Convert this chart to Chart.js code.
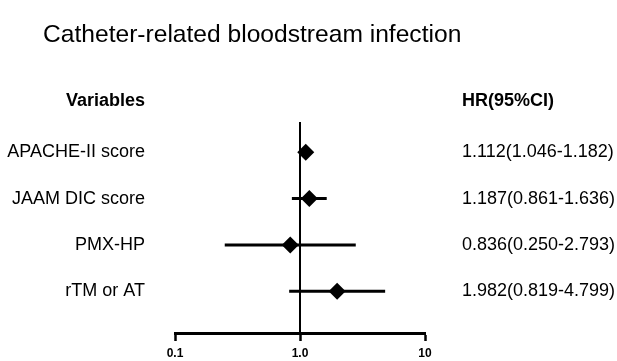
<!DOCTYPE html>
<html>
<head>
<meta charset="utf-8">
<script src="https://cdn.jsdelivr.net/npm/chart.js@4.4.1/dist/chart.umd.min.js"></script>
<style>
    body { margin: 0; background: #fff; }
    #wrap { position: relative; width: 617px; height: 361px; }
    #title {
        position: absolute; left: 43px; top: 21px;
        font-family: "Liberation Sans", Arial, sans-serif;
        font-size: 24.6px; line-height: 25px; color: #000;
        white-space: nowrap;
    }
    canvas { position: absolute; left: 0; top: 0; }
</style>
</head>
<body>
<div id="wrap">
    <canvas id="forestChart" width="617" height="361"></canvas>
    <div id="title">Catheter-related bloodstream infection</div>
</div>
<script>
// данные со снимка
const variables = ['APACHE-II score', 'JAAM DIC score', 'PMX-HP', 'rTM or AT'];
const hr = [1.112, 1.187, 0.836, 1.982];
const ciLow = [1.046, 0.861, 0.250, 0.819];
const ciHigh = [1.182, 1.636, 2.793, 4.799];
const xTicks = [0.1, 1, 10];
const xTickLabels = ['0.1', '1.0', '10'];
const leftHeader = 'Variables';
const rightHeader = 'HR(95%CI)';

const FONT = '"Liberation Sans", Arial, sans-serif';
const headerPos = -0.1;
const rowTicks = [headerPos, 1, 2, 3, 4];

// подписи HR(95%CI) собираем из массивов
const hrLabels = hr.map((v, i) => `${v.toFixed(3)}(${ciLow[i].toFixed(3)}-${ciHigh[i].toFixed(3)})`);

// линии доверительных интервалов — по одной на строку
const ciDatasets = variables.map((name, i) => ({
    type: 'line',
    label: name,
    data: [{ x: ciLow[i], y: i + 1 }, { x: ciHigh[i], y: i + 1 }],
    borderColor: '#000',
    borderWidth: 3,
    pointRadius: 0,
    order: 2
}));

const refLine = {
    type: 'line',
    label: 'ref',
    data: [{ x: 1, y: 0.35 }, { x: 1, y: 4.9 }],
    borderColor: '#000',
    borderWidth: 2,
    pointRadius: 0,
    order: 3
};

const points = {
    type: 'line',
    label: 'HR',
    data: hr.map((v, i) => ({ x: v, y: i + 1 })),
    showLine: false,
    pointStyle: 'rectRot',
    pointRadius: 8.5,
    backgroundColor: '#000',
    borderColor: '#000',
    borderWidth: 0,
    order: 1
};

const tickFont = (ctx) => ({
    family: FONT,
    size: 18,
    weight: ctx.index === 0 ? 'bold' : 'normal'
});

const rowAxis = (position, labelFn, width, pad) => ({
    type: 'linear',
    position: position,
    reverse: true,
    min: -0.6,
    max: 4.9,
    grid: { display: false, drawTicks: false },
    border: { display: false },
    afterBuildTicks: (axis) => { axis.ticks = rowTicks.map(v => ({ value: v })); },
    afterFit: (axis) => {
        axis.width = width;
        // без этого padding подписей съедает место снизу
        axis.paddingTop = 0;
        axis.paddingBottom = 0;
    },
    ticks: {
        color: '#000',
        padding: pad,
        font: tickFont,
        callback: (value, index) => labelFn(index)
    }
});

new Chart(document.getElementById('forestChart').getContext('2d'), {
    type: 'line',
    data: { datasets: [refLine, ...ciDatasets, points] },
    options: {
        responsive: false,
        animation: false,
        layout: { padding: { top: 78, left: 0, right: 0, bottom: 0 } },
        plugins: {
            legend: { display: false },
            tooltip: { enabled: false }
        },
        scales: {
            x: {
                type: 'logarithmic',
                position: 'bottom',
                min: 0.1,
                max: 10,
                afterBuildTicks: (axis) => { axis.ticks = xTicks.map(v => ({ value: v })); },
                afterFit: (axis) => { axis.height = 28; },
                grid: {
                    drawOnChartArea: false,
                    tickLength: 8,
                    tickWidth: 2.5,
                    tickColor: '#000'
                },
                border: { display: true, color: '#000', width: 3 },
                ticks: {
                    color: '#000',
                    padding: 5,
                    maxRotation: 0,
                    font: { family: FONT, size: 12, weight: 'bold' },
                    callback: (value, index) => xTickLabels[index]
                }
            },
            y: rowAxis('left', i => i === 0 ? leftHeader : variables[i - 1], 175, 30),
            y2: rowAxis('right', i => i === 0 ? rightHeader : hrLabels[i - 1], 192, 37)
        }
    }
});
</script>
</body>
</html>
